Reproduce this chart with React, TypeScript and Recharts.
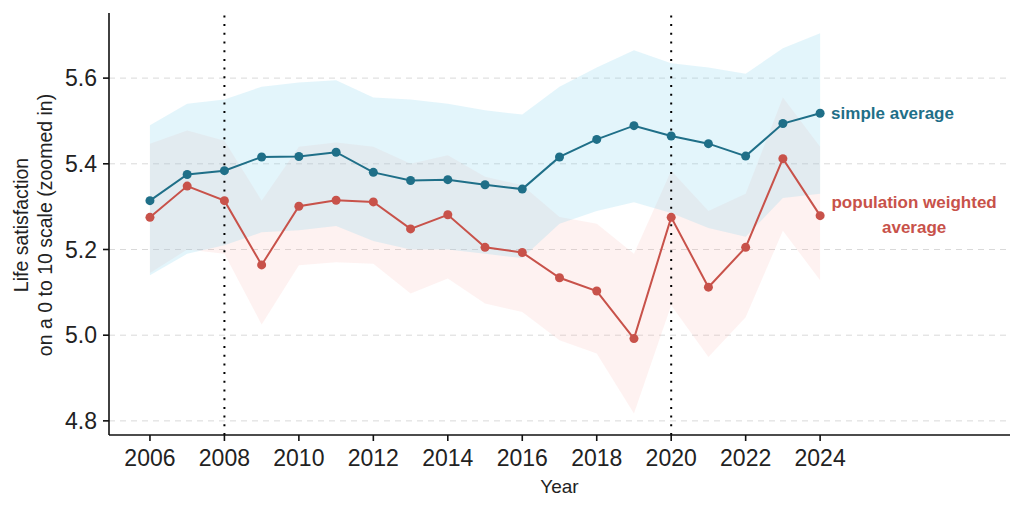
import React from "react";
import {
  ComposedChart,
  Area,
  Line,
  XAxis,
  YAxis,
  CartesianGrid,
  ReferenceLine,
  LabelList,
} from "recharts";

const years = [
  2006, 2007, 2008, 2009, 2010, 2011, 2012, 2013, 2014, 2015, 2016, 2017, 2018,
  2019, 2020, 2021, 2022, 2023, 2024,
];
const simpleAvg = [
  5.314, 5.375, 5.384, 5.416, 5.417, 5.427, 5.38, 5.361, 5.363, 5.351, 5.341,
  5.416, 5.457, 5.489, 5.465, 5.447, 5.418, 5.494, 5.518,
];
const simpleLow = [
  5.14, 5.19, 5.21, 5.24, 5.245, 5.255, 5.22, 5.2, 5.2, 5.19, 5.18, 5.26, 5.29,
  5.31, 5.285, 5.25, 5.23, 5.32, 5.33,
];
const simpleHigh = [
  5.49, 5.54, 5.55, 5.58, 5.59, 5.595, 5.555, 5.55, 5.54, 5.525, 5.515, 5.58,
  5.625, 5.665, 5.635, 5.625, 5.61, 5.67, 5.705,
];
const weightedAvg = [
  5.275, 5.348, 5.314, 5.164, 5.301, 5.315, 5.311, 5.248, 5.281, 5.205, 5.193,
  5.134, 5.103, 4.992, 5.275, 5.112, 5.205, 5.412, 5.279,
];
const weightedLow = [
  5.145, 5.2, 5.19, 5.025, 5.163, 5.17, 5.167, 5.097, 5.132, 5.074, 5.054,
  4.988, 4.957, 4.817, 5.07, 4.949, 5.042, 5.244, 5.128,
];
const weightedHigh = [
  5.447, 5.478, 5.454, 5.314, 5.44, 5.45, 5.44, 5.4, 5.42, 5.37, 5.35, 5.276,
  5.26, 5.19, 5.384, 5.29, 5.33, 5.555, 5.44,
];
const xTicks = [2006, 2008, 2010, 2012, 2014, 2016, 2018, 2020, 2022, 2024];
const yTicks = [4.8, 5.0, 5.2, 5.4, 5.6];
const markedYears = [2008, 2020];

const BLUE = "#1f6f88";
const RED = "#c8524a";
const FONT = "'Liberation Sans', Arial, Helvetica, sans-serif";

const data = years.map((year, i) => ({
  year,
  simple: simpleAvg[i],
  weighted: weightedAvg[i],
  simpleBand: [simpleLow[i], simpleHigh[i]],
  weightedBand: [weightedLow[i], weightedHigh[i]],
}));

const last = years.length - 1;

function SimpleLabel(props: any) {
  const { x, y, index } = props;
  if (index !== last) return null;
  return (
    <text
      x={x + 11}
      y={y + 1}
      fill={BLUE}
      fontSize={17}
      fontWeight="bold"
      fontFamily={FONT}
      dominantBaseline="middle"
    >
      simple average
    </text>
  );
}

function WeightedLabel(props: any) {
  const { x, y, index } = props;
  if (index !== last) return null;
  return (
    <text
      fill={RED}
      fontSize={17}
      fontWeight="bold"
      fontFamily={FONT}
      textAnchor="middle"
      dominantBaseline="middle"
    >
      <tspan x={x + 94} y={y - 12}>
        population weighted
      </tspan>
      <tspan x={x + 94} y={y + 13}>
        average
      </tspan>
    </text>
  );
}

function YTitle() {
  const cy = 225;
  return (
    <text
      transform={`rotate(-90, 0, ${cy})`}
      fill="#222"
      fontSize={19.5}
      fontFamily={FONT}
      textAnchor="middle"
    >
      <tspan x={0} y={cy + 28}>
        Life satisfaction
      </tspan>
      <tspan x={0} y={cy + 52}>
        on a 0 to 10 scale (zoomed in)
      </tspan>
    </text>
  );
}

export default function App() {
  return (
    <div style={{ position: "absolute", left: 0, top: 0, background: "#fff" }}>
      <ComposedChart
        width={1024}
        height={512}
        data={data}
        margin={{ top: 13, right: 14, bottom: 0, left: 0 }}
      >
        <CartesianGrid
          vertical={false}
          horizontalValues={yTicks}
          stroke="#d9d9d9"
          strokeDasharray="6 5"
        />
        <XAxis
          dataKey="year"
          type="number"
          domain={[2004.9, 2029.1]}
          ticks={xTicks}
          allowDataOverflow
          height={77}
          stroke="#111"
          strokeWidth={1.6}
          tickSize={6}
          tickMargin={9}
          tick={{ fill: "#222", fontSize: 23, fontFamily: FONT }}
          label={{
            value: "Year",
            position: "insideBottom",
            offset: 19,
            fill: "#222",
            fontSize: 19,
            fontFamily: FONT,
          }}
        />
        <YAxis
          type="number"
          domain={[4.767, 5.752]}
          ticks={yTicks}
          allowDataOverflow
          width={109}
          stroke="#111"
          strokeWidth={1.6}
          tickSize={6}
          tickMargin={6}
          tickFormatter={(v: number) => v.toFixed(1)}
          tick={{ fill: "#222", fontSize: 23, fontFamily: FONT }}
          label={{ content: YTitle }}
        />
        <Area
          type="linear"
          dataKey="weightedBand"
          fill="#f7b0a6"
          fillOpacity={0.16}
          stroke="none"
          isAnimationActive={false}
        />
        <Area
          type="linear"
          dataKey="simpleBand"
          fill="#8ad4ef"
          fillOpacity={0.24}
          stroke="none"
          isAnimationActive={false}
        />
        {markedYears.map((yr) => (
          <ReferenceLine
            key={yr}
            x={yr}
            stroke="#000"
            strokeWidth={2}
            strokeDasharray="2 6.7"
          />
        ))}
        <Line
          type="linear"
          dataKey="simple"
          stroke={BLUE}
          strokeWidth={2}
          dot={{ r: 4.5, fill: BLUE, stroke: BLUE, strokeWidth: 0 }}
          isAnimationActive={false}
        >
          <LabelList dataKey="simple" content={SimpleLabel} />
        </Line>
        <Line
          type="linear"
          dataKey="weighted"
          stroke={RED}
          strokeWidth={2}
          dot={{ r: 4.5, fill: RED, stroke: RED, strokeWidth: 0 }}
          isAnimationActive={false}
        >
          <LabelList dataKey="weighted" content={WeightedLabel} />
        </Line>
      </ComposedChart>
    </div>
  );
}
